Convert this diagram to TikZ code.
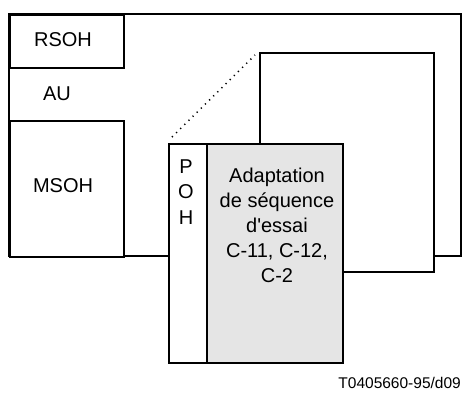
\documentclass[tikz,border=0pt]{standalone}
\usepackage{fontspec}
\setmainfont{Liberation Sans}
\begin{document}
\begin{tikzpicture}[x=1pt,y=-1pt,
  frame/.style={draw=black, line width=1.5pt},
  box/.style={frame, fill=white, inner sep=0pt, anchor=north west},
  lbl/.style={font=\fontsize{20}{25}\selectfont, inner sep=0pt},
  foot/.style={font=\fontsize{15.5}{18}\selectfont, inner sep=0pt}]
\useasboundingbox (0,0) rectangle (462,392);
% outer AU frame
\draw[frame] (9,14) rectangle (461,256);
\node[box, minimum width=114pt, minimum height=53pt] (rsoh) at (9,14) {};
\node[box, minimum width=114pt, minimum height=136pt] (msoh) at (9,120) {};
\node[lbl] (rsohT) at (63,39.5) {RSOH};
\node[lbl] (au) at (57,93.5) {AU};
\node[lbl] (msohT) at (63,186) {MSOH};
% inner frame
\node[box, minimum width=174pt, minimum height=219pt] (inner) at (259,52) {};
% POH and payload
\node[box, minimum width=38pt, minimum height=219pt] (poh) at (168,143) {};
\node[box, fill=gray!20, minimum width=136pt, minimum height=219pt] (pay) at (206,143) {};
\node[lbl] (p) at (186,167) {P};
\node[lbl] (o) at (186,192) {O};
\node[lbl] (h) at (186,217.5) {H};
\node[lbl, align=center] (payT) at (277,225) {Adaptation\\de séquence\\d\textquotesingle essai\\C-11, C-12,\\C-2};
% dotted link
\coordinate (d1) at (172,137);
\coordinate (d2) at (255,55);
\draw[line width=1.5pt, dash pattern=on 1.2pt off 4.6pt] (d1) -- (d2);
\node[foot, anchor=base east] (ref) at (461,388) {T0405660-95/d09};
\end{tikzpicture}
\end{document}
